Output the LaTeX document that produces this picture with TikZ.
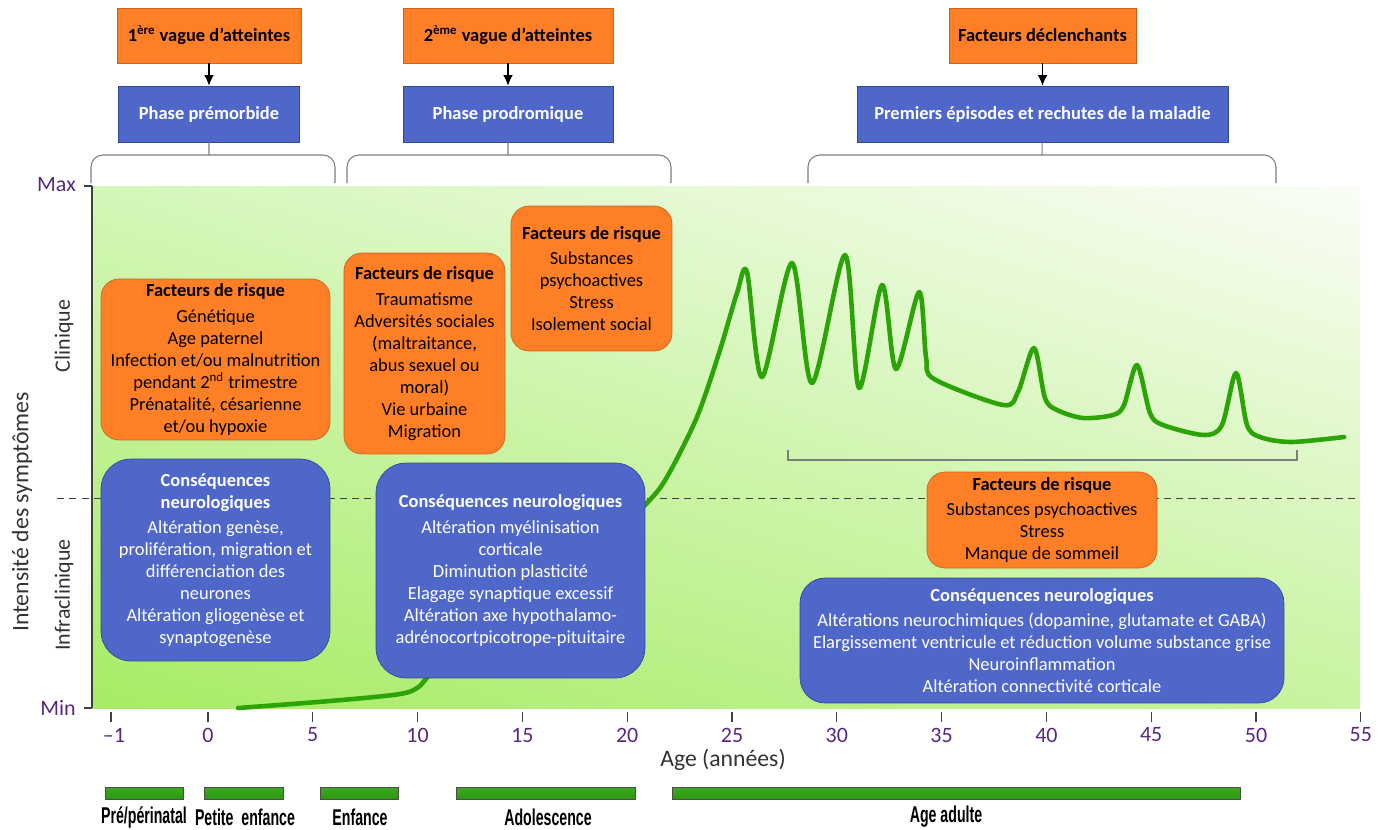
\documentclass[tikz,border=0pt]{standalone}
\usepackage{fontspec}
\setmainfont{Carlito}
\setsansfont{Carlito}
\newfontfamily\stagefont[FakeStretch=0.62]{Liberation Sans}
\usepackage{xcolor}
\usepackage{tikz}
\usetikzlibrary{
    shapes,
    positioning,
    arrows.meta,
    shadings,
    calc
}
\definecolor{riskorange}{RGB}{255,127,39}
\definecolor{riskedge}{RGB}{205,100,25}
\definecolor{conseqblue}{RGB}{79,103,201}
\definecolor{conseqedge}{RGB}{50,72,155}
\definecolor{curvegreen}{RGB}{44,163,6}
\definecolor{axispurple}{RGB}{88,40,128}
\definecolor{bracegray}{RGB}{125,125,125}
\definecolor{bglowleft}{RGB}{166,236,100}
\definecolor{bgupleft}{RGB}{212,246,184}
\definecolor{bgupright}{RGB}{250,253,246}
\definecolor{bglowright}{RGB}{200,243,160}
\definecolor{bartop}{RGB}{60,170,30}
\definecolor{barmid}{RGB}{140,226,90}
\definecolor{barbottom}{RGB}{45,150,20}
\tikzset{
  basic/.style = {
      draw,
      font=\sffamily\fontsize{10.5}{12.5}\selectfont,
      align=center,
      inner sep=2pt
  },
  wave/.style = {
      basic,
      rectangle,
      fill=riskorange,
      draw=riskedge,
      minimum height=1.1cm,
      font=\sffamily\bfseries\fontsize{10.5}{12.5}\selectfont
  },
  phase/.style = {
      wave,
      fill=conseqblue,
      draw=conseqedge,
      text=white,
      minimum height=1.12cm
  },
  risk/.style = {
      basic,
      fill=riskorange,
      draw=riskedge,
      rounded corners=0.36cm
  },
  conseq/.style = {
      basic,
      fill=conseqblue,
      draw=conseqedge,
      text=white,
      rounded corners=0.6cm
  },
  brace/.style = {
      draw=bracegray,
      rounded corners=0.24cm,
      semithick
  },
  tick/.style = {
      draw=black!75,
      semithick
  },
  ticklabel/.style = {
      text=axispurple,
      font=\sffamily\fontsize{12.5}{14}\selectfont
  },
  axistitle/.style = {
      text=black!80,
      font=\sffamily\fontsize{13.5}{15}\selectfont
  },
  stagebar/.style = {
      draw=black!70,
      top color=bartop,
      middle color=barmid,
      bottom color=barbottom
  },
  stage/.style = {
      font=\stagefont\bfseries\fontsize{13}{15}\selectfont
  },
  symptom/.style = {
      draw=curvegreen,
      line width=2.6pt,
      line cap=round,
      line join=round
  },
  trigger arrow/.style = {
      draw,
      semithick,
      -{Latex[length=6pt, width=5.5pt]}
  }
}
\newcommand{\riskhead}[1]{\textbf{#1}\\[2pt]}

\begin{document}
\begin{tikzpicture}[x=0.02cm, y=-0.02cm, node distance=1.57cm]
    \useasboundingbox (0,0) rectangle (1386,829);
    % Background
    \shade[lower left=bglowleft, upper left=bgupleft,
           upper right=bgupright, lower right=bglowright]
        (92,186) rectangle (1360,708);
    \draw[black!75, dashed, dash pattern=on 4pt off 3pt] (57,498) -- (1360,498);
    % Axes
    \draw[tick] (92,186) -- (92,708);
    \draw[tick] (84,186) -- (92,186);
    \draw[tick] (84,708) -- (92,708);
    \node[ticklabel, anchor=east] (ymax) at (82,185) {Max};
    \node[ticklabel, anchor=east] (ymin) at (82,708) {Min};
    \draw[tick] (111,712) -- (111,722);
    \node[ticklabel] (tm1) at (114,735) {–1};
    \foreach \v in {0,5,...,55} {
        \draw[tick] (208+\v*20.96,712) -- (208+\v*20.96,722);
        \node[ticklabel] (t\v) at (208+\v*20.96,735) {\v};
    }
    \node[axistitle] (xtitle) at (723,760) {Age (années)};
    \node[axistitle, rotate=90] (ytitle) at (22,512) {Intensité des symptômes};
    \node[axistitle, rotate=90, font=\sffamily\fontsize{12.5}{14}\selectfont] (clin) at (64,336) {Clinique};
    \node[axistitle, rotate=90, font=\sffamily\fontsize{12.5}{14}\selectfont] (infra) at (64,595) {Infraclinique};
    % Symptom curve
    \draw[symptom] plot[smooth, tension=0.5] coordinates {
        (238,708) (330,701) (400,694) (420,686) (436,670) (530,603)
        (600,548) (647,503) (667,477) (697,417) (720,350) (737,293) (747,272)
        (762,377) (792,263) (812,383)
        (845,255) (859,388) (882,285) (896,369) (919,292) (926,357)
        (934,379) (1003,405) (1018,392) (1034,348) (1045,398) (1057,410)
        (1083,418) (1113,415) (1124,405) (1137,365) (1150,413) (1163,425)
        (1204,435) (1222,425) (1236,373) (1247,425) (1260,437) (1291,442)
        (1344,437)};
    \draw[bracegray, semithick] (788,450) -- (788,460) -- (1297,460) -- (1297,450);
    % Top nodes
    \node[wave, minimum width=3.68cm] (wave1) at (209,35.5) {1\textsuperscript{ère} vague d’atteintes};
    \node[phase, minimum width=3.62cm, below of=wave1] (premorbid) {Phase prémorbide};
    \node[wave, minimum width=4.2cm] (wave2) at (508,35.5) {2\textsuperscript{ème} vague d’atteintes};
    \node[phase, minimum width=4.2cm, below of=wave2] (prodrome) {Phase prodromique};
    \node[wave, minimum width=3.74cm] (trigger) at (1042.5,35.5) {Facteurs déclenchants};
    \node[phase, minimum width=7.42cm, below of=trigger] (relapse) {Premiers épisodes et rechutes de la maladie};
    \coordinate (b1) at (209,155);
    \coordinate (b2) at (508,155);
    \coordinate (b3) at (1042,155);
    % Top edges
    \draw[trigger arrow] (wave1) -- (premorbid);
    \draw[trigger arrow] (wave2) -- (prodrome);
    \draw[trigger arrow] (trigger) -- (relapse);
    \path[brace]
    (premorbid) -- (b1)
    (prodrome) -- (b2)
    (relapse) -- (b3);
    \draw[brace] (91,183) |- (b1) -| (335,183);
    \draw[brace] (347,183) |- (b2) -| (671,183);
    \draw[brace] (808,183) |- (b3) -| (1276,183);
    % Risk factors
    \node[risk, minimum width=4.58cm, minimum height=3.22cm] (risk1) at (215.5,359.5) {
        \riskhead{Facteurs de risque}
        Génétique\\ Age paternel\\ Infection et/ou malnutrition\\
        pendant 2\textsuperscript{nd} trimestre\\ Prénatalité, césarienne\\ et/ou hypoxie};
    \node[risk, minimum width=3.22cm, minimum height=4.02cm] (risk2) at (424.5,353.5) {
        \riskhead{Facteurs de risque}
        Traumatisme\\ Adversités sociales\\ (maltraitance,\\ abus sexuel ou\\
        moral)\\ Vie urbaine\\ Migration};
    \node[risk, minimum width=3.22cm, minimum height=2.9cm] (risk3) at (591.5,278.5) {
        \riskhead{Facteurs de risque}
        Substances\\ psychoactives\\ Stress\\ Isolement social};
    \node[risk, minimum width=4.6cm, minimum height=1.92cm] (risk4) at (1042,520) {
        \riskhead{Facteurs de risque}
        Substances psychoactives\\ Stress\\ Manque de sommeil};
    % Neurological consequences
    \node[conseq, minimum width=4.58cm, minimum height=4.04cm] (neuro1) at (215.5,560) {
        \textbf{Conséquences}\\ \riskhead{neurologiques}
        Altération genèse,\\ prolifération, migration et\\ différenciation des\\
        neurones\\ Altération gliogenèse et\\ synaptogenèse};
    \node[conseq, minimum width=5.38cm, minimum height=4.3cm] (neuro2) at (510.5,570.5) {
        \riskhead{Conséquences neurologiques}
        Altération myélinisation\\ corticale\\ Diminution plasticité\\
        Elagage synaptique excessif\\ Altération axe hypothalamo-\\
        adrénocortpicotrope-pituitaire};
    \node[conseq, rounded corners=0.5cm, minimum width=9.68cm, minimum height=2.5cm] (neuro3) at (1042,640.5) {
        \riskhead{Conséquences neurologiques}
        Altérations neurochimiques (dopamine, glutamate et GABA)\\
        Elargissement ventricule et réduction volume substance grise\\
        Neuroinflammation\\ Altération connectivité corticale};
    % Life stages
    \shade[stagebar] (105,787) rectangle (183,799);
    \shade[stagebar] (204,787) rectangle (283,799);
    \shade[stagebar] (320,787) rectangle (398,799);
    \shade[stagebar] (456,787) rectangle (635,799);
    \shade[stagebar] (672,787) rectangle (1240,799);
    \draw[black!70] (105,787) rectangle (183,799) (204,787) rectangle (283,799)
        (320,787) rectangle (398,799) (456,787) rectangle (635,799)
        (672,787) rectangle (1240,799);
    \node[stage] (s1) at (144,817) {Pré/périnatal};
    \node[stage] (s2) at (245,817) {Petite\ \ enfance};
    \node[stage] (s3) at (360,817) {Enfance};
    \node[stage] (s4) at (548,817) {Adolescence};
    \node[stage] (s5) at (946,817) {Age adulte};
\end{tikzpicture}
\end{document}
